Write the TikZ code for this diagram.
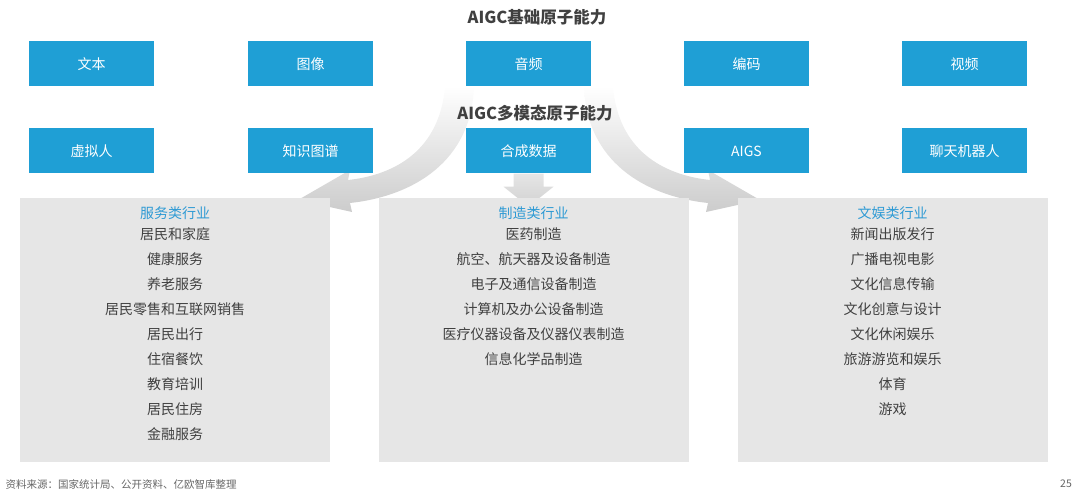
\documentclass[tikz,border=0pt]{standalone}
\usepackage{fontspec}
\setmainfont{Noto Sans CJK SC}
\usetikzlibrary{calc}
\definecolor{boxblue}{HTML}{1F9FD5}
\definecolor{headblue}{HTML}{2E9AD4}
\definecolor{txtgray}{HTML}{404040}
\definecolor{panelgray}{HTML}{E6E6E6}
\definecolor{footgray}{HTML}{666666}
\tikzset{
  bluebox/.style={fill=boxblue, text=white, minimum width=125pt, minimum height=45pt, inner sep=0pt, font=\fontsize{14}{16}\selectfont},
  panel/.style={fill=panelgray, anchor=north west, minimum width=310pt, minimum height=264pt, inner sep=0pt},
  title/.style={text=txtgray, font=\bfseries\fontsize{16.5}{19}\selectfont},
  head/.style={text=headblue, font=\fontsize{14}{16}\selectfont},
  item/.style={text=txtgray, font=\fontsize{14}{16}\selectfont},
  foot/.style={text=footgray, font=\fontsize{10.5}{12}\selectfont},
  fadearrow/.style={top color=white, middle color=black!8, bottom color=black!20}
}
\begin{document}
\begin{tikzpicture}[x=1pt,y=-1pt]
\useasboundingbox (0,0) rectangle (1080,500);
% curved arrows
\shade[fadearrow] (445,86) .. controls (440,150) and (395,175) .. (348,180) -- (350,170) -- (298,200) -- (352,212) -- (350,203) .. controls (415,196) and (472,160) .. (474,86) -- cycle;
\begin{scope}[xshift=1058pt, xscale=-1]
\shade[fadearrow] (445,86) .. controls (440,150) and (395,175) .. (348,180) -- (350,170) -- (298,200) -- (352,212) -- (350,203) .. controls (415,196) and (472,160) .. (474,86) -- cycle;
\end{scope}
% titles
\node[title] (t0) at (537,17) {AIGC基础原子能力};
\node[title] (m0) at (535,113) {AIGC多模态原子能力};
% top row
\node[bluebox] (t1) at (91.5,64) {文本};
\node[bluebox] (t2) at (310.5,64) {图像};
\node[bluebox] (t3) at (528.5,64) {音频};
\node[bluebox] (t4) at (746.5,64) {编码};
\node[bluebox] (t5) at (964.5,64) {视频};
% second row
\node[bluebox] (m1) at (91.5,151) {虚拟人};
\node[bluebox] (m2) at (310.5,151) {知识图谱};
\node[bluebox] (m3) at (528.5,151) {合成数据};
\node[bluebox] (m4) at (746.5,151) {AIGS};
\node[bluebox] (m5) at (964.5,151) {聊天机器人};
% center arrow
\shade[top color=black!10, bottom color=black!18]
  ($(m3.south)+(-15,0)$) -- ($(m3.south)+(15,0)$) -- ($(m3.south)+(15,13)$) -- ($(m3.south)+(25,13)$)
  -- ($(m3.south)+(0,33)$) -- ($(m3.south)+(-25,13)$) -- ($(m3.south)+(-15,13)$) -- cycle;
% panels
\node[panel] (g1) at (20,198) {};
\node[panel] (g2) at (379,198) {};
\node[panel] (g3) at (738,198) {};
\node[head] (h1) at (175,213) {服务类行业};
\node[head] (h2) at (533.5,213) {制造类行业};
\node[head] (h3) at (892.5,213) {文娱类行业};
\foreach \t [count=\i] in {居民和家庭,健康服务,养老服务,居民零售和互联网销售,居民出行,住宿餐饮,教育培训,居民住房,金融服务}
  \node[item] (s\i) at (175,209+25*\i) {\t};
\foreach \t [count=\i] in {医药制造,航空、航天器及设备制造,电子及通信设备制造,计算机及办公设备制造,医疗仪器设备及仪器仪表制造,信息化学品制造}
  \node[item] (p\i) at (533.5,209+25*\i) {\t};
\foreach \t [count=\i] in {新闻出版发行,广播电视电影,文化信息传输,文化创意与设计,文化休闲娱乐,旅游游览和娱乐,体育,游戏}
  \node[item] (e\i) at (892.5,209+25*\i) {\t};
% footer
\node[foot, anchor=west] (src) at (2,484) {资料来源：国家统计局、公开资料、亿欧智库整理};
\node[foot] (pg) at (1066,484) {25};
\end{tikzpicture}
\end{document}
